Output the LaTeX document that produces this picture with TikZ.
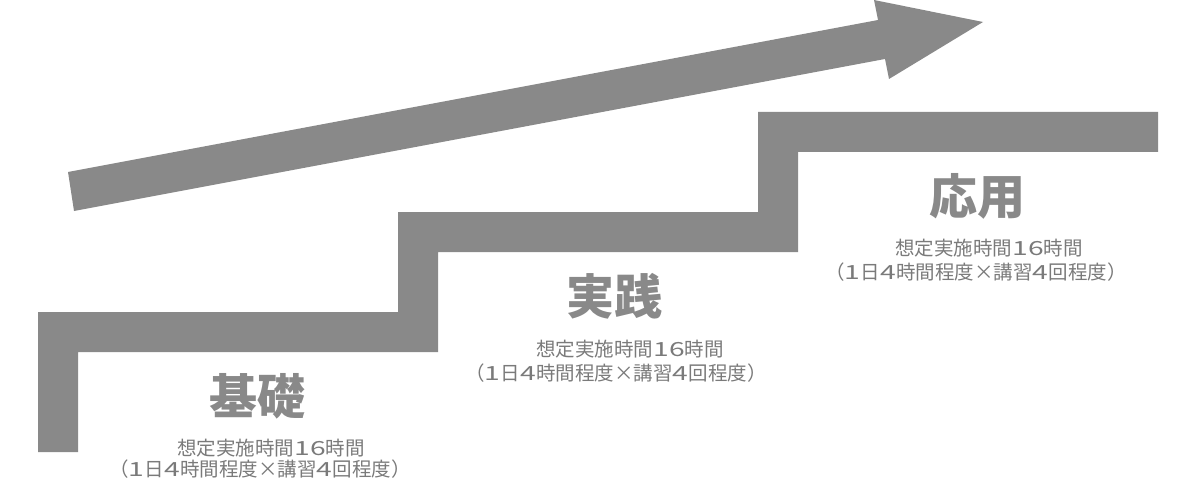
\documentclass[tikz,border=0pt]{standalone}
\usepackage{fontspec}
\newfontfamily\jp{Noto Sans CJK JP}
\definecolor{shapegray}{HTML}{898989}
\definecolor{ttlgray}{HTML}{898989}
\definecolor{subgray}{HTML}{7a7a7a}
\newcommand{\dg}[1]{\makebox[0.82em][c]{\scalebox{1.45}[1]{#1}}}
\begin{document}
\begin{tikzpicture}[x=1pt,y=-1pt,
  title/.style={font=\jp\bfseries\fontsize{48}{48}\selectfont, text=ttlgray, inner sep=0pt},
  subline/.style={font=\jp\fontsize{19.5}{20}\selectfont, text=subgray, inner sep=0pt}]
\useasboundingbox (0,0) rectangle (1200,484);
\clip (0,0) rectangle (1200,484);
% staircase
\fill[shapegray] (38,452) -- (38,312) -- (398,312) -- (398,212) -- (758,212) -- (758,112) -- (1158,112)
  -- (1158,152) -- (798,152) -- (798,252) -- (438,252) -- (438,352) -- (78,352) -- (78,452) -- cycle;
% arrow
\fill[shapegray] (68,172) -- (878,20) -- (874,0) -- (983,22) -- (889,79) -- (885,59) -- (74,211) -- cycle;
% labels
\node[title] (t1) at (257,396) {基礎};
\node[subline] (s1a) at (271,448) {想定実施時間\dg{1}\dg{6}時間};
\node[subline] (s1b) at (260,469) {（\dg{1}日\dg{4}時間程度×講習\dg{4}回程度）};
\node[title] (t2) at (614,296) {実践};
\node[subline] (s2a) at (630,349) {想定実施時間\dg{1}\dg{6}時間};
\node[subline] (s2b) at (616,373) {（\dg{1}日\dg{4}時間程度×講習\dg{4}回程度）};
\node[title] (t3) at (977,196) {応用};
\node[subline] (s3a) at (989,248) {想定実施時間\dg{1}\dg{6}時間};
\node[subline] (s3b) at (976,272) {（\dg{1}日\dg{4}時間程度×講習\dg{4}回程度）};
\end{tikzpicture}
\end{document}
